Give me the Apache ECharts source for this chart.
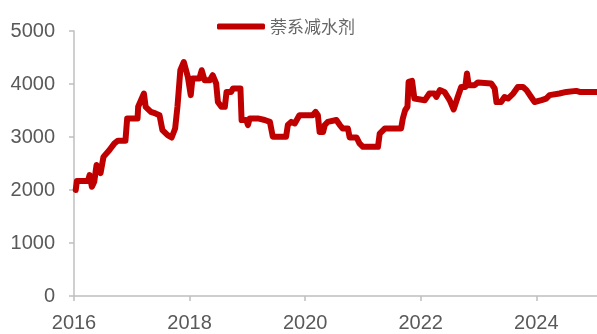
<!DOCTYPE html>
<html>
<head>
<meta charset="utf-8">
<script src="https://cdn.jsdelivr.net/npm/echarts@6/dist/echarts.min.js"></script>
<style>html,body{margin:0;padding:0;background:#fff}#c{width:597px;height:334px}</style>
</head>
<body>
<div id="c"></div>
<script>
const seriesName = '萘系减水剂';
const years = [2016.03,2016.05,2016.24,2016.27,2016.31,2016.35,2016.39,2016.46,2016.51,2016.61,2016.70,2016.76,2016.89,2016.92,2017.10,2017.11,2017.21,2017.24,2017.33,2017.41,2017.48,2017.53,2017.62,2017.69,2017.75,2017.79,2017.84,2017.90,2017.97,2018.02,2018.05,2018.17,2018.21,2018.24,2018.26,2018.35,2018.40,2018.46,2018.49,2018.55,2018.61,2018.64,2018.72,2018.75,2018.88,2018.90,2018.98,2019.01,2019.04,2019.18,2019.21,2019.30,2019.39,2019.44,2019.67,2019.70,2019.76,2019.82,2019.90,2020.13,2020.18,2020.22,2020.25,2020.31,2020.34,2020.39,2020.54,2020.60,2020.65,2020.74,2020.77,2020.89,2020.94,2021.00,2021.26,2021.29,2021.38,2021.66,2021.69,2021.73,2021.77,2021.79,2021.85,2021.89,2022.07,2022.15,2022.24,2022.27,2022.33,2022.41,2022.50,2022.57,2022.64,2022.70,2022.77,2022.80,2022.83,2022.93,2022.99,2023.22,2023.28,2023.31,2023.39,2023.45,2023.51,2023.60,2023.68,2023.77,2023.83,2023.91,2023.97,2024.09,2024.17,2024.23,2024.40,2024.52,2024.69,2024.75,2025.04];
const prices = [2000,2170,2170,2280,2060,2155,2470,2320,2625,2750,2880,2930,2930,3350,3350,3570,3820,3570,3475,3445,3410,3130,3035,2990,3160,3570,4260,4415,4135,3790,4105,4105,4260,4260,4070,4070,4165,4010,3660,3570,3570,3850,3850,3915,3915,3320,3320,3225,3350,3350,3380,3320,3285,3005,3005,3225,3285,3255,3410,3410,3475,3410,3095,3095,3225,3285,3320,3225,3160,3160,2990,2990,2880,2815,2815,3065,3160,3160,3350,3505,3570,4040,4060,3725,3695,3820,3820,3755,3885,3850,3695,3520,3755,3945,3945,4200,3975,3975,4030,4010,3915,3660,3660,3755,3725,3820,3945,3945,3885,3755,3660,3695,3725,3790,3820,3850,3870,3850,3850];
const xTickLabels = [2016, 2018, 2020, 2022, 2024];
const yTicks = [0, 1000, 2000, 3000, 4000, 5000];

const chart = echarts.init(document.getElementById('c'));
const axisColor = '#bfbfbf';
const labelColor = '#595959';
const font = '"Liberation Sans", Arial, sans-serif';
chart.setOption({
  animation: false,
  backgroundColor: '#ffffff',
  grid: { left: 74, right: 0, top: 31, bottom: 38, containLabel: false },
  legend: {
    data: [seriesName],
    left: 212, top: 13,
    icon: 'roundRect',
    itemWidth: 48, itemHeight: 6,
    itemGap: 10,
    textStyle: { fontSize: 17, color: '#666666', fontFamily: '"Noto Sans CJK SC", sans-serif' }
  },
  xAxis: {
    type: 'value',
    min: 2016, max: 2025.05, interval: 2,
    axisLine: { show: true, lineStyle: { color: axisColor, width: 1.5 } },
    axisTick: { show: true, length: 5, lineStyle: { color: axisColor, width: 1.5 } },
    splitLine: { show: false },
    axisLabel: {
      fontSize: 20, color: labelColor, fontFamily: font, margin: 17,
      showMaxLabel: false,
      formatter: function (v) { return xTickLabels.indexOf(v) >= 0 ? String(v) : ''; }
    }
  },
  yAxis: {
    type: 'value',
    min: yTicks[0], max: yTicks[yTicks.length - 1], interval: 1000,
    axisLine: { show: true, lineStyle: { color: axisColor, width: 1.5 } },
    axisTick: { show: true, length: 5, lineStyle: { color: axisColor, width: 1.5 } },
    splitLine: { show: false },
    axisLabel: {
      fontSize: 20, color: labelColor, fontFamily: font, margin: 19,
      formatter: function (v) { return String(v); }
    }
  },
  series: [{
    name: seriesName,
    type: 'line',
    data: years.map((y, i) => [y, prices[i]]),
    showSymbol: false,
    symbol: 'none',
    clip: false,
    lineStyle: { color: '#c00000', width: 6, cap: 'round', join: 'round' },
    itemStyle: { color: '#c00000' }
  }]
});
</script>
</body>
</html>
